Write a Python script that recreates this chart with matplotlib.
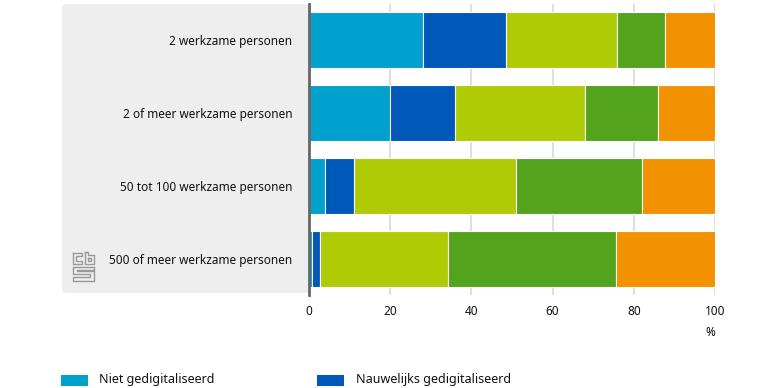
import matplotlib
matplotlib.use("Agg")
import matplotlib.pyplot as plt
import numpy as np
from matplotlib.patches import FancyBboxPatch, Rectangle
from matplotlib.lines import Line2D

plt.rcParams['font.family'] = ['Noto Sans', 'DejaVu Sans']

categories = ['2 werkzame personen', '2 of meer werkzame personen',
              '50 tot 100 werkzame personen', '500 of meer werkzame personen']
series = ['Niet gedigitaliseerd', 'Nauwelijks gedigitaliseerd',
          'Gedeeltelijk gedigitaliseerd', 'Grotendeels gedigitaliseerd',
          'Volledig gedigitaliseerd']
niet = [28, 20, 4, 0.8]
nauwelijks = [20.4, 16, 7, 2.0]
gedeeltelijk = [27.4, 32, 40, 31.4]
grotendeels = [12, 18, 31, 41.5]
volledig = [12.2, 14, 18, 24.3]
colors = ['#00A1CD', '#0058B8', '#AFCB05', '#53A31D', '#F39200']
xticks = [0, 20, 40, 60, 80, 100]

W, H = 776, 388
fig = plt.figure(figsize=(W / 100, H / 100), dpi=100)

def fx(px):
    return px / W

def fy(py):
    return 1 - py / H

# grey panel behind labels
panel = FancyBboxPatch((fx(62), fy(293)), fx(309) - fx(62), fy(4) - fy(293),
                       boxstyle="round,pad=0,rounding_size=0.008",
                       transform=fig.transFigure, facecolor='#EEEEEE',
                       edgecolor='none', zorder=0)
fig.add_artist(panel)

ax = fig.add_axes([fx(309), fy(295), fx(715) - fx(309), fy(4) - fy(295)])
ax.set_facecolor('none')

y = np.arange(len(categories))
left = np.zeros(len(categories))
for vals, col in zip([niet, nauwelijks, gedeeltelijk, grotendeels, volledig], colors):
    ax.barh(y, vals, left=left, height=0.77, color=col, edgecolor='white',
            linewidth=0.8, zorder=3)
    left += np.array(vals)

ax.set_xlim(0, 100)
ax.set_ylim(3.5, -0.5)
ax.set_xticks(xticks)
ax.set_xticklabels([str(t) for t in xticks], fontsize=8.5, color='#111111')
ax.set_yticks(y)
ax.set_yticklabels(categories, fontsize=8.5, color='#111111')
ax.tick_params(axis='both', length=0)
ax.tick_params(axis='x', pad=7)
ax.tick_params(axis='y', pad=12)
ax.grid(axis='x', color='#D9D9D9', linewidth=1.2, zorder=0)
for s in ['top', 'right', 'bottom']:
    ax.spines[s].set_visible(False)
ax.spines['left'].set_color('#666666')
ax.spines['left'].set_linewidth(2)
ax.spines['left'].set_zorder(5)

fig.text(fx(715), fy(333), '%', ha='right', va='center', fontsize=8.5, color='#111111')

# legend (only first row fits on canvas)
for i, (name, col) in enumerate(zip(series, colors)):
    row, c = divmod(i, 2)
    x0 = 61 if c == 0 else 317
    yy = 380 + row * 24
    fig.add_artist(Rectangle((fx(x0), fy(yy + 6)), fx(27), fy(0) - fy(11),
                             transform=fig.transFigure, facecolor=col, edgecolor='none'))
    fig.text(fx(x0 + (38 if c == 0 else 39)), fy(yy), name, ha='left', va='center',
             fontsize=9, color='#111111')

# simple cbs logo
lc = '#999999'
segs = [
    [(73, 253), (82, 253), (82, 256), (76, 256), (76, 261), (82, 261), (82, 264), (73, 264), (73, 253)],
    [(85, 252), (88, 252), (88, 255), (94, 255), (94, 264), (85, 264), (85, 252)],
    [(88, 258), (91, 258), (91, 261), (88, 261), (88, 258)],
    [(94, 267), (73, 267), (73, 274), (90, 274), (90, 277), (73, 277), (73, 281), (94, 281),
     (94, 271), (77, 271), (77, 270), (94, 270), (94, 267)],
]
for s in segs:
    xs = [fx(p[0]) for p in s]
    ys = [fy(p[1]) for p in s]
    fig.add_artist(Line2D(xs, ys, transform=fig.transFigure, color=lc, linewidth=1))

fig.savefig('out.png', dpi=100)
